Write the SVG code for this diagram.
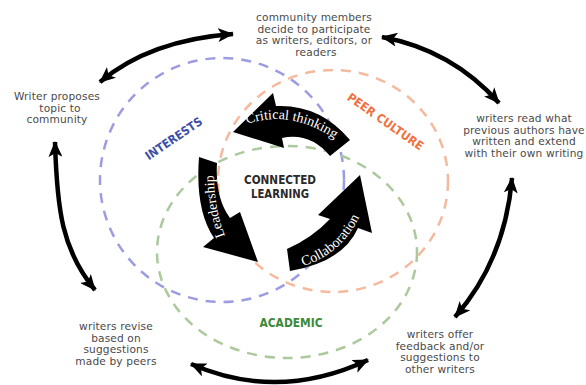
<svg xmlns="http://www.w3.org/2000/svg" width="586" height="385" viewBox="0 0 586 385">
<defs>
<style>
.lbl{font-family:"DejaVu Sans","Liberation Sans",sans-serif;font-size:10.6px;fill:#4a4a4a;text-anchor:middle;letter-spacing:0.15px}
.ring{fill:none;stroke-width:2.5;stroke-dasharray:10 8}
.conn{fill:none;stroke:#000;stroke-width:4.5;marker-start:url(#ah);marker-end:url(#ah)}
.arr{fill:#000}
.atx{font-family:"Liberation Serif","DejaVu Serif",serif;font-size:14px;fill:#fff}
.cat{font-family:"DejaVu Sans","Liberation Sans",sans-serif;font-weight:bold;font-size:12px}
</style>
<marker id="ah" viewBox="0 0 16 14" refX="15" refY="7" markerWidth="16" markerHeight="14" markerUnits="userSpaceOnUse" orient="auto-start-reverse">
<path d="M16,7 L0,0 L4,7 L0,14 Z" fill="#000"/>
</marker>
<path id="pCT" d="M247,124 Q294,108 342,144"/>
<path id="pLD" d="M225,236 Q213,205 214,168"/>
<path id="pCO" d="M303,266 Q342,255 362,212"/>
</defs>
<rect width="586" height="385" fill="#fff"/>

<g id="rings">
<circle class="ring" cx="222" cy="180" r="122" stroke="#9c9ce2"/>
<ellipse class="ring" cx="333" cy="181" rx="115" ry="111" stroke="#f5b99e"/>
<ellipse class="ring" cx="287" cy="252" rx="130" ry="106" stroke="#abc99d"/>
</g>

<g id="cycle">
<g id="critical-thinking">
<path class="arr" d="M233,132 L273,93 L276,106 Q320,104 350,140 L330,156 Q310,132 282,138 L284,148 Z"/>
<text class="atx"><textPath href="#pCT">Critical thinking</textPath></text>
</g>
<g id="leadership">
<path class="arr" d="M199,157 L217,163 Q215,198 230,218 L240,212 L258,262 L203,247 L214,238 Q195,210 199,157 Z"/>
<text class="atx" font-size="13.5"><textPath href="#pLD">Leadership</textPath></text>
</g>
<g id="collaboration">
<path class="arr" d="M287,249 Q312,238 330,219 L318,215 L360,175 L372,233 L358,228 Q343,262 290,271 Z"/>
<text class="atx"><textPath href="#pCO">Collaboration</textPath></text>
</g>
</g>

<g id="center">
<text class="cat" x="280" y="184" text-anchor="middle" fill="#2a2a2a" font-size="13" textLength="72" lengthAdjust="spacingAndGlyphs">CONNECTED</text>
<text class="cat" x="280" y="198" text-anchor="middle" fill="#2a2a2a" font-size="13" textLength="58" lengthAdjust="spacingAndGlyphs">LEARNING</text>
</g>
<g id="interests"><text class="cat" fill="#3d4fa8" text-anchor="middle" transform="translate(176,142) rotate(-34)" textLength="66" lengthAdjust="spacingAndGlyphs">INTERESTS</text></g>
<g id="peer-culture"><text class="cat" fill="#f07040" text-anchor="middle" transform="translate(383,125) rotate(35)" textLength="90" lengthAdjust="spacingAndGlyphs">PEER CULTURE</text></g>
<g id="academic"><text class="cat" fill="#3a8a3a" x="291" y="327" text-anchor="middle" textLength="63" lengthAdjust="spacingAndGlyphs">ACADEMIC</text></g>

<g id="connectors">
<path class="conn" d="M100,82 Q150,40 233,34"/>
<path class="conn" d="M382,37 Q452,50 499,103"/>
<path class="conn" d="M512,178 Q505,260 455,317"/>
<path class="conn" d="M368,360 Q278,402 191,364"/>
<path class="conn" d="M95,290 C62,250 57,210 55,142"/>
</g>

<g id="n-community"><text class="lbl"><tspan x="314" y="21">community members</tspan><tspan x="314" y="32.5">decide to participate</tspan><tspan x="314" y="44">as writers, editors, or</tspan><tspan x="316" y="55.5">readers</tspan></text></g>
<g id="n-propose"><text class="lbl"><tspan x="57" y="100">Writer proposes</tspan><tspan x="60" y="111.5">topic to</tspan><tspan x="57" y="123">community</tspan></text></g>
<g id="n-read"><text class="lbl"><tspan x="524" y="122">writers read what</tspan><tspan x="524" y="133.5">previous authors have</tspan><tspan x="524" y="145">written and extend</tspan><tspan x="524" y="156.5">with their own writing</tspan></text></g>
<g id="n-feedback"><text class="lbl"><tspan x="440" y="338">writers offer</tspan><tspan x="440" y="349.5">feedback and/or</tspan><tspan x="440" y="361">suggestions to</tspan><tspan x="440" y="372.5">other writers</tspan></text></g>
<g id="n-revise"><text class="lbl"><tspan x="116" y="330">writers revise</tspan><tspan x="116" y="341.5">based on</tspan><tspan x="116" y="353">suggestions</tspan><tspan x="116" y="364.5">made by peers</tspan></text></g>
</svg>
